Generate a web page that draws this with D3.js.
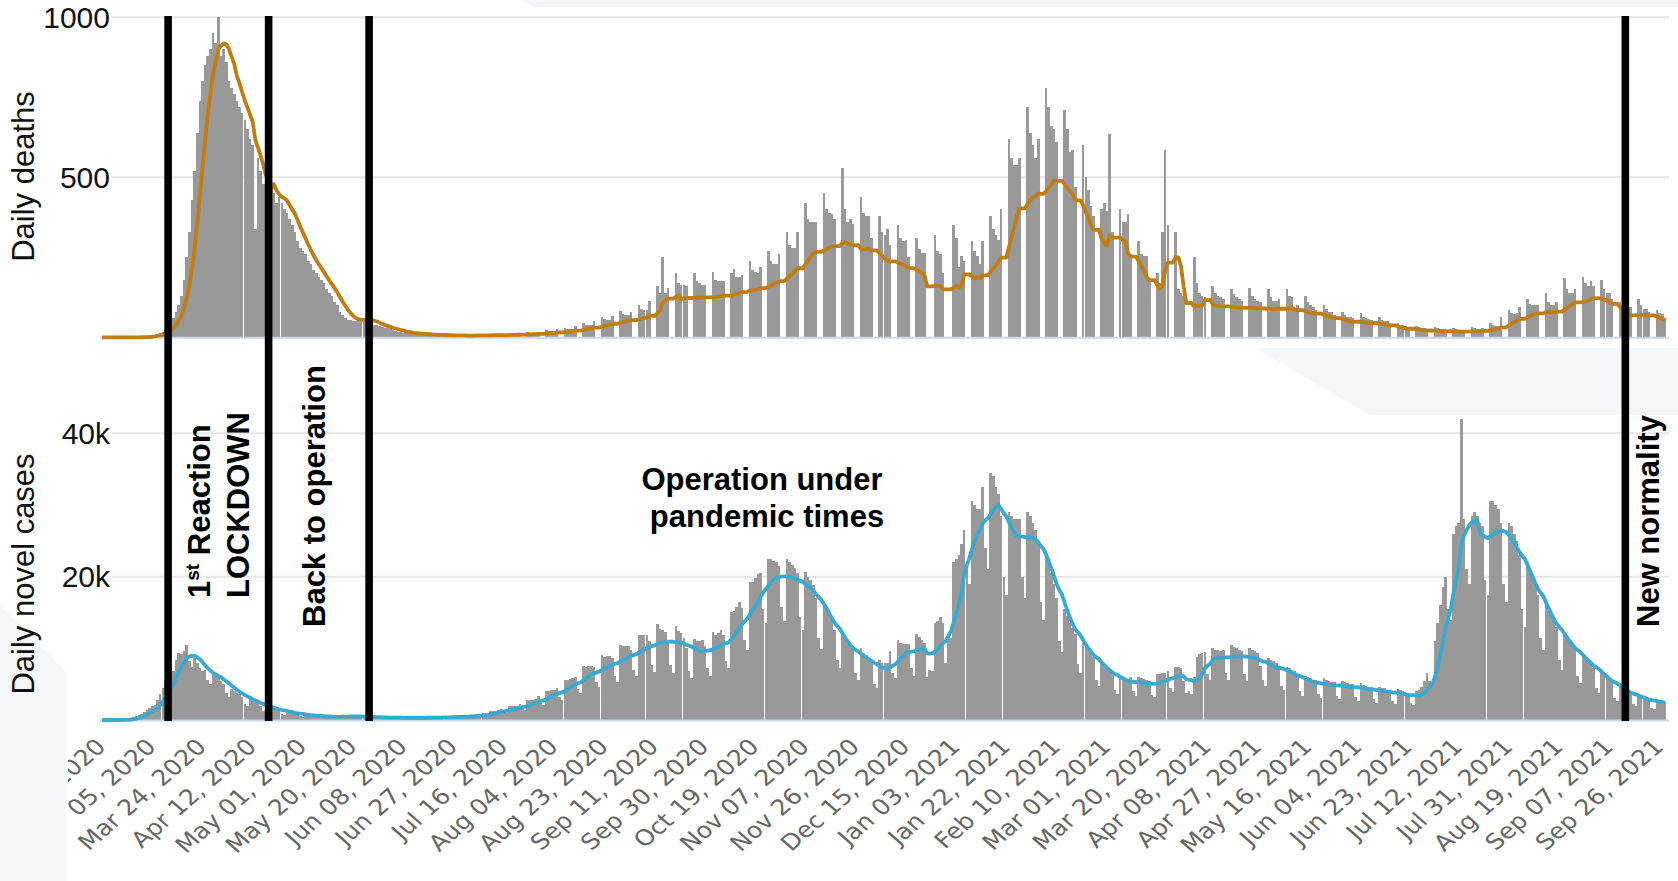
<!DOCTYPE html>
<html>
<head>
<meta charset="utf-8">
<script src="https://cdn.jsdelivr.net/npm/d3@7/dist/d3.min.js"></script>
<style>
  body { margin: 0; background: #fff; }
  svg { display: block; }
</style>
</head>
<body>
<script>
// first day of the daily series (one value per day)
var startDate = "2020-02-14";

// daily deaths (rows of 7 days, the first row is short)
var deaths = [
  0,0,0,0,
  0,0,0,0,0,0,0,
  0,0,0,0,1,1,2,
  3,5,8,10,12,18,25,
  35,45,60,80,100,130,180,
  250,330,430,520,640,740,800,
  850,880,900,950,920,1000,880,
  900,860,800,780,760,740,720,
  700,680,650,620,600,340,560,
  520,480,430,440,470,450,420,
  440,420,400,390,370,350,330,
  300,280,270,260,240,230,210,
  200,190,180,170,150,140,130,
  110,100,80,70,60,55,55,
  50,50,55,60,58,55,50,
  45,40,38,35,32,30,28,
  25,22,20,18,17,15,14,
  13,11,10,12,11,10,9,
  9,6,5,9,8,8,7,
  7,4,3,7,7,6,6,
  8,0,0,10,8,8,8,
  9,0,0,11,10,9,9,
  10,0,0,13,11,11,11,
  13,0,0,16,14,14,14,
  18,0,0,22,20,19,19,
  25,0,0,30,27,26,26,
  36,0,0,45,40,38,38,
  52,0,0,64,56,54,54,
  68,0,0,83,73,70,70,
  80,0,0,100,87,84,84,
  115,0,0,160,140,250,140,
  155,0,0,200,170,165,165,
  160,0,0,200,175,170,165,
  165,0,0,205,180,175,175,
  175,0,0,200,215,190,190,
  195,0,0,240,210,205,200,
  220,0,0,270,240,230,230,
  260,0,0,330,290,280,280,
  330,0,0,420,370,360,360,
  360,0,0,450,400,390,385,
  370,0,0,530,400,360,370,
  355,0,0,440,390,380,380,
  310,0,0,380,330,320,340,
  290,0,0,350,310,300,305,
  250,0,0,310,275,265,265,
  0,0,0,320,270,260,200,
  0,0,0,350,310,220,255,
  240,0,0,300,270,255,230,
  300,0,0,380,340,320,305,
  400,0,0,620,560,540,540,
  560,0,0,720,640,600,560,
  620,0,0,780,720,660,650,
  610,0,0,710,650,580,585,
  470,0,0,600,500,460,410,
  380,0,0,400,420,395,635,
  330,0,0,400,360,360,385,
  260,0,0,300,260,255,255,
  180,0,0,200,170,330,585,
  350,0,0,330,150,140,130,
  0,0,0,250,170,140,130,
  125,0,0,160,140,130,125,
  120,0,0,150,135,125,120,
  115,0,0,155,130,120,115,
  110,0,0,150,125,115,115,
  120,0,0,150,130,125,90,
  100,0,0,130,110,100,95,
  85,0,0,100,90,80,80,
  70,0,0,80,70,65,65,
  60,0,0,75,65,60,58,
  55,0,0,65,55,52,50,
  38,0,0,45,40,37,35,
  30,0,0,36,32,28,28,
  25,0,0,32,28,26,25,
  22,0,0,30,26,24,24,
  22,0,0,32,28,26,26,
  30,0,0,45,38,36,35,
  65,0,0,85,75,72,75,
  95,0,0,120,105,100,100,
  100,0,0,140,110,100,100,
  110,0,0,185,150,140,140,
  150,0,0,190,170,160,175,
  160,0,0,180,150,140,140,
  120,0,0,110,95,90,90,
  95,0,0,120,100,90,90,
  80,0,0,85,75,72,60
];

// daily novel cases in thousands, same days as above
var cases = [
  0,0,0,0,
  0,0,0,0.01,0.01,0.02,0.03,
  0.3,0.4,0.5,0.7,0.9,1.1,1.4,
  1.7,1.9,2.1,2.8,3.6,4.5,5.5,
  6.0,6.4,6.8,8.4,9.4,9.2,9.6,
  10.4,8.2,7.4,8.6,8.0,7.2,6.8,
  7.0,5.6,5.0,6.6,6.2,5.8,5.5,
  5.0,3.7,3.2,4.3,4.1,3.8,3.6,
  3.2,2.2,1.9,2.9,2.7,2.5,2.4,
  2.0,1.3,1.1,1.9,1.7,1.6,1.5,
  1.3,0.8,0.7,1.2,1.1,1.0,0.9,
  0.8,0.5,0.45,0.75,0.7,0.7,0.65,
  0.55,0.35,0.3,0.55,0.5,0.5,0.45,
  0.5,0.35,0.3,0.6,0.6,0.55,0.55,
  0.5,0.35,0.3,0.55,0.5,0.5,0.45,
  0.4,0.25,0.2,0.45,0.4,0.4,0.35,
  0.35,0.2,0.18,0.38,0.35,0.35,0.32,
  0.33,0.2,0.18,0.38,0.36,0.35,0.33,
  0.38,0.24,0.2,0.44,0.42,0.4,0.4,
  0.46,0.3,0.26,0.56,0.54,0.52,0.5,
  0.6,0.4,0.35,0.72,0.7,0.7,0.68,
  0.95,0.7,0.6,1.3,1.3,1.3,1.35,
  1.5,1.1,0.95,1.9,1.9,1.95,2.0,
  2.2,1.6,1.4,2.8,2.8,2.85,2.9,
  3.3,2.4,2.1,4.1,4.1,4.2,4.2,
  4.4,3.2,2.8,5.6,5.6,5.7,5.8,
  6.0,4.3,3.8,7.5,7.4,7.5,7.6,
  7.4,5.3,4.6,9.0,8.8,8.9,8.9,
  8.6,6.1,5.3,10.4,10.3,10.3,10.3,
  9.8,7.0,6.1,11.9,11.8,11.8,11.9,
  11.0,7.7,6.7,13.4,12.7,12.5,12.3,
  11.2,7.7,6.6,13.1,12.4,12.1,11.5,
  10.0,6.8,5.8,11.3,11.0,11.0,11.2,
  10.3,7.2,6.2,12.3,11.8,12.2,12.5,
  11.8,8.2,7.2,15.0,15.2,15.8,16.4,
  15.6,11.2,9.8,19.2,19.2,19.8,20.4,
  20.5,15.5,13.5,22.5,22.5,22.2,22.0,
  21.5,15.8,13.8,22.4,22.0,21.6,21.2,
  20.5,14.4,12.6,20.6,20.0,19.5,18.8,
  17.0,11.5,9.9,16.6,15.6,14.8,14.0,
  12.6,8.4,7.2,12.2,11.4,10.8,10.2,
  10.0,6.6,5.6,10.0,9.4,9.0,8.6,
  8.2,5.0,4.4,8.4,8.0,8.0,8.0,
  9.6,6.6,5.8,11.2,10.8,10.6,10.6,
  10.6,7.2,6.2,12.0,11.6,11.2,10.8,
  6.0,7.0,6.8,13.5,13.8,14.4,13.5,
  8.0,12.0,11.5,22.0,22.5,23.0,24.5,
  26.5,21.0,19.0,30.5,30.0,29.5,29.5,
  32.5,24.0,21.0,34.5,34.0,32.5,31.5,
  28.5,20.0,17.5,29.0,28.5,28.0,28.0,
  28.0,20.0,17.0,29.0,28.5,27.5,26.5,
  25.0,16.5,14.0,23.5,22.0,20.5,19.0,
  17.0,11.0,9.5,15.5,14.5,13.5,12.8,
  12.0,7.8,6.6,10.8,10.2,9.8,9.4,
  8.8,5.6,4.8,7.8,7.4,7.2,7.0,
  6.6,4.2,3.6,6.2,6.0,5.8,5.7,
  6.0,4.0,3.4,6.0,5.8,5.7,5.6,
  5.4,3.5,3.2,6.4,6.4,6.5,6.5,
  6.8,4.4,3.9,7.4,7.4,7.2,5.5,
  3.8,4.0,3.6,6.0,8.8,9.2,9.4,
  9.5,6.4,5.6,10.0,9.8,9.7,9.6,
  9.8,6.6,5.6,10.4,10.2,10.0,9.8,
  9.6,6.4,5.4,10.0,9.8,9.6,9.4,
  7.5,5.6,4.8,8.6,8.4,8.2,8.0,
  7.6,4.8,4.2,7.4,7.2,7.0,6.8,
  6.2,4.0,3.4,6.2,6.0,5.8,5.6,
  5.6,3.6,3.0,5.8,5.6,5.4,5.3,
  5.3,3.4,2.9,5.4,5.3,5.2,5.0,
  5.0,3.2,2.7,5.1,4.9,4.8,4.6,
  4.6,2.9,2.4,4.6,4.5,4.4,4.2,
  4.2,2.6,2.2,4.3,4.2,4.0,3.6,
  3.6,2.4,2.1,4.0,4.2,4.6,5.4,
  6.5,5.5,5.0,11.0,13.5,16.0,18.5,
  20.0,15.5,14.0,26.0,27.0,27.5,42.0,
  28.0,21.0,19.0,28.5,29.0,28.5,27.5,
  27.0,19.5,17.5,30.5,30.5,30.0,29.5,
  27.5,19.0,16.5,27.5,27.0,26.0,25.0,
  23.0,15.5,13.0,22.0,21.0,20.0,19.0,
  17.5,11.5,9.8,16.0,15.2,14.6,14.0,
  13.0,8.4,7.0,12.0,11.5,11.0,10.6,
  9.8,6.2,5.2,9.2,8.8,8.4,8.2,
  7.2,4.4,3.7,6.6,6.3,6.1,5.8,
  5.2,3.1,2.6,4.7,4.4,4.2,4.0,
  3.7,2.2,1.9,3.5,3.4,3.2,3.0,
  2.8,1.7,1.5,2.9,2.8,2.7,2.5
];

// x axis tick dates (every 19 days)
var tickDates = [
  "2020-02-15","2020-03-05","2020-03-24","2020-04-12","2020-05-01","2020-05-20",
  "2020-06-08","2020-06-27","2020-07-16","2020-08-04","2020-08-23","2020-09-11",
  "2020-09-30","2020-10-19","2020-11-07","2020-11-26","2020-12-15","2021-01-03",
  "2021-01-22","2021-02-10","2021-03-01","2021-03-20","2021-04-08","2021-04-27",
  "2021-05-16","2021-06-04","2021-06-23","2021-07-12","2021-07-31","2021-08-19",
  "2021-09-07","2021-09-26"
];

var deathTicks = [500, 1000];
var caseTicks = [20, 40];   // thousands

// phase boundaries (black vertical lines)
var phaseDates = ["2020-03-10", "2020-04-17", "2020-05-25", "2021-09-12"];

var W = 1678, H = 881;
var parse = d3.timeParse("%Y-%m-%d");
var t0 = parse(startDate);
var days = deaths.map(function(d, i) { return d3.timeDay.offset(t0, i); });

var svg = d3.select("body").append("svg")
            .attr("width", W)
            .attr("height", H)
            .style("font-family", "'Liberation Sans', Arial, sans-serif");

// pale slide background shapes
var pale = "#f5f7fa";
svg.append("polygon").attr("points", "520,0 1678,0 1678,7 535,7").attr("fill", pale);
svg.append("polygon").attr("points", "1255,348 1678,348 1678,415 1370,415").attr("fill", pale);
svg.append("polygon").attr("points", "0,605 66,672 66,881 0,881").attr("fill", pale);

var x = d3.scaleTime()
          .domain([t0, days[days.length - 1]])
          .range([102, 1665]);

var yD = d3.scaleLinear().domain([0, 1000]).range([337.3, 17.3]);
var yC = d3.scaleLinear().domain([0, 40]).range([720, 433.3]);

var step = x(days[1]) - x(days[0]);
var barW = step - 0.05;

// trailing 7-day average
function rolling(values) {
    return values.map(function(v, i) {
        return d3.mean(values.slice(Math.max(0, i - 6), i + 1));
    });
}

function panel(values, y, ticks, lineColor, fmt) {
    var g = svg.append("g");

    // grid lines
    g.selectAll("line.grid")
     .data(ticks)
     .enter()
        .append("line")
        .attr("x1", 112).attr("x2", 1669)
        .attr("y1", function(d) { return y(d); })
        .attr("y2", function(d) { return y(d); })
        .attr("stroke", "#e6e6e6")
        .attr("stroke-width", 2);

    g.selectAll("text.ylab")
     .data(ticks)
     .enter()
        .append("text")
        .attr("x", 110)
        .attr("y", function(d) { return y(d); })
        .attr("text-anchor", "end")
        .attr("dy", "0.36em")
        .attr("font-size", 30)
        .attr("fill", "#111")
        .text(fmt);

    // daily bars
    g.selectAll("rect")
     .data(values)
     .enter()
        .append("rect")
        .attr("x", function(d, i) { return Math.round(x(days[i]) - barW / 2); })
        .attr("width", function(d, i) {
            return Math.round(x(days[i]) + barW / 2) - Math.round(x(days[i]) - barW / 2);
        })
        .attr("y", function(d) { return y(d); })
        .attr("height", function(d) { return y(0) - y(d); })
        .attr("fill", "#999999")
        .attr("shape-rendering", "crispEdges");

    // axis base line
    g.append("line")
     .attr("x1", 100).attr("x2", 1669)
     .attr("y1", y(0) + 0.5).attr("y2", y(0) + 0.5)
     .attr("stroke", "#ccd6eb")
     .attr("stroke-width", 2);

    var line = d3.line()
                 .x(function(d, i) { return x(days[i]); })
                 .y(function(d) { return y(d); });
    g.append("path")
     .datum(rolling(values))
     .attr("d", line)
     .attr("fill", "none")
     .attr("stroke", lineColor)
     .attr("stroke-width", 3.8)
     .attr("stroke-linejoin", "round");
}

panel(deaths, yD, deathTicks, "#c27d12", function(d) { return d; });
panel(cases, yC, caseTicks, "#3aa9d2", function(d) { return d + "k"; });

// x axis with rotated labels (clipped at the chart's left edge)
svg.append("clipPath").attr("id", "labclip")
   .append("rect").attr("x", 68).attr("y", 0).attr("width", 1610).attr("height", 161);

var xAxis = d3.axisBottom(x)
              .tickValues(tickDates.map(parse))
              .tickSize(0)
              .tickFormat(d3.timeFormat("%b %d, %Y"));

var ax = svg.append("g")
            .attr("transform", "translate(0,720)")
            .attr("clip-path", "url(#labclip)")
            .call(xAxis);
ax.select(".domain").remove();
ax.selectAll("text")
  .attr("text-anchor", "end")
  .attr("y", 0).attr("dy", 0)
  .attr("transform", "translate(2,28) scale(1.15,1) rotate(-45)")
  .attr("font-family", "'DejaVu Sans', Verdana, sans-serif")
  .attr("font-size", 22)
  .attr("fill", "#666");

// phase lines
svg.selectAll("line.phase")
   .data(phaseDates.map(parse))
   .enter()
      .append("line")
      .attr("x1", function(d) { return x(d); })
      .attr("x2", function(d) { return x(d); })
      .attr("y1", 16).attr("y2", 721)
      .attr("stroke", "#000")
      .attr("stroke-width", 7.6);

// axis titles
function vtitle(txt, cy) {
    svg.append("text")
       .attr("transform", "translate(34," + cy + ") rotate(-90)")
       .attr("text-anchor", "middle")
       .attr("font-size", 31)
       .attr("fill", "#111")
       .text(txt);
}
vtitle("Daily deaths", 176.5);
vtitle("Daily novel cases", 574);

// phase annotations
function vlabel(cx, by) {
    return svg.append("text")
              .attr("transform", "translate(" + cx + "," + by + ") rotate(-90)")
              .attr("font-size", 31)
              .attr("font-weight", "bold")
              .attr("fill", "#000");
}
var first = vlabel(210, 598);
first.append("tspan").text("1");
first.append("tspan").attr("font-size", 19).attr("dy", -11).text("st");
first.append("tspan").attr("dy", 11).text(" Reaction");
vlabel(249, 598).text("LOCKDOWN");
vlabel(325, 627).text("Back to operation");
vlabel(1659, 627).text("New normality");

svg.append("text")
   .attr("x", 762).attr("y", 490)
   .attr("text-anchor", "middle")
   .attr("font-size", 31).attr("font-weight", "bold")
   .text("Operation under");
svg.append("text")
   .attr("x", 767).attr("y", 527)
   .attr("text-anchor", "middle")
   .attr("font-size", 31).attr("font-weight", "bold")
   .text("pandemic times");
</script>
</body>
</html>
